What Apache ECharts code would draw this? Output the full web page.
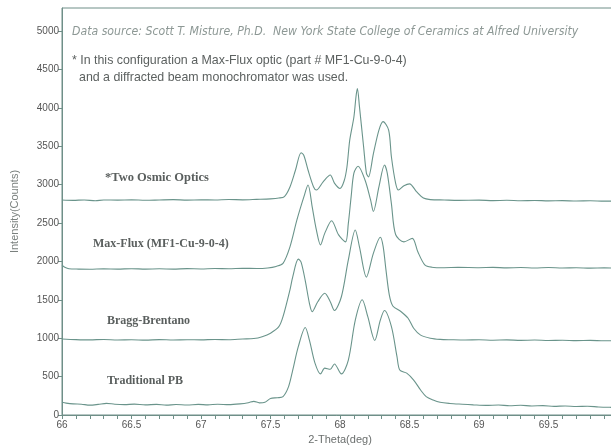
<!DOCTYPE html>
<html>
<head>
<meta charset="utf-8">
<script src="https://cdn.jsdelivr.net/npm/echarts@6/dist/echarts.min.js"></script>
<style>
html,body{margin:0;padding:0;background:#fff;}
#c{width:611px;height:447px;}
</style>
</head>
<body>
<div id="c"></div>
<script>
// ---- data (2-Theta in deg, Intensity in counts) ----
var seriesNames = ['*Two Osmic Optics', 'Max-Flux (MF1-Cu-9-0-4)', 'Bragg-Brentano', 'Traditional PB'];

var osmic = [
[66.00,2800],[66.08,2795],[66.16,2800],[66.24,2790],[66.30,2800],[66.40,2798],[66.50,2802],[66.60,2796],[66.70,2800],[66.80,2804],[66.90,2798],[67.00,2802],[67.10,2800],[67.20,2806],[67.30,2802],[67.40,2808],[67.50,2815],[67.56,2825],[67.60,2845],[67.64,2970],[67.68,3190],[67.72,3415],[67.74,3380],[67.77,3190],[67.81,2970],[67.83,2930],[67.88,3040],[67.93,3125],[67.96,3020],[68.00,2950],[68.03,3050],[68.05,3230],[68.07,3580],[68.10,3880],[68.115,4145],[68.125,4250],[68.14,4015],[68.17,3490],[68.19,3150],[68.205,3100],[68.24,3400],[68.28,3710],[68.31,3820],[68.35,3710],[68.37,3360],[68.40,3020],[68.42,2930],[68.46,2985],[68.50,3010],[68.55,2910],[68.60,2825],[68.65,2805],[68.75,2800],[68.85,2795],[69.00,2798],[69.10,2792],[69.20,2796],[69.30,2790],[69.40,2794],[69.50,2788],[69.60,2792],[69.70,2786],[69.80,2790],[69.90,2785],[70.00,2785]
];

var maxflux = [
[66.00,1950],[66.02,1925],[66.05,1905],[66.12,1900],[66.20,1898],[66.30,1903],[66.40,1900],[66.50,1905],[66.60,1900],[66.70,1904],[66.80,1900],[66.90,1906],[67.00,1902],[67.10,1908],[67.20,1904],[67.30,1910],[67.40,1908],[67.48,1915],[67.54,1935],[67.59,1975],[67.64,2190],[67.69,2540],[67.74,2840],[67.77,2995],[67.80,2710],[67.83,2410],[67.86,2215],[67.89,2365],[67.94,2530],[67.99,2345],[68.04,2255],[68.06,2495],[68.08,2840],[68.10,3150],[68.13,3240],[68.18,3060],[68.22,2800],[68.24,2650],[68.28,2970],[68.32,3255],[68.34,3150],[68.37,2750],[68.40,2350],[68.46,2255],[68.52,2300],[68.56,2125],[68.61,1955],[68.66,1925],[68.75,1918],[68.85,1922],[69.00,1918],[69.10,1922],[69.20,1916],[69.30,1920],[69.40,1915],[69.50,1920],[69.60,1914],[69.70,1918],[69.80,1912],[69.90,1916],[70.00,1912]
];

var bragg = [
[66.00,990],[66.10,982],[66.20,978],[66.30,984],[66.40,976],[66.50,980],[66.60,975],[66.70,982],[66.80,976],[66.90,980],[67.00,978],[67.10,984],[67.20,980],[67.30,990],[67.38,996],[67.44,1020],[67.50,1065],[67.56,1150],[67.59,1280],[67.64,1630],[67.66,1800],[67.70,2030],[67.72,1990],[67.75,1750],[67.78,1455],[67.80,1345],[67.84,1475],[67.89,1585],[67.93,1475],[67.96,1360],[68.01,1540],[68.06,2020],[68.11,2410],[68.14,2190],[68.19,1795],[68.24,2105],[68.29,2315],[68.31,2200],[68.33,1900],[68.355,1560],[68.38,1420],[68.44,1345],[68.49,1260],[68.53,1130],[68.58,1040],[68.65,1000],[68.72,985],[68.80,980],[68.90,976],[69.00,980],[69.10,974],[69.20,978],[69.30,972],[69.40,976],[69.50,970],[69.60,974],[69.70,968],[69.80,972],[69.90,966],[70.00,968]
];

var tradpb = [
[66.00,165],[66.03,155],[66.08,145],[66.14,140],[66.20,128],[66.26,138],[66.32,152],[66.38,140],[66.45,135],[66.52,142],[66.60,132],[66.68,138],[66.75,128],[66.82,136],[66.90,130],[66.98,138],[67.05,132],[67.12,140],[67.20,135],[67.28,145],[67.34,160],[67.38,178],[67.42,158],[67.46,165],[67.50,215],[67.55,225],[67.59,240],[67.63,370],[67.66,585],[67.70,890],[67.75,1140],[67.78,975],[67.82,675],[67.86,535],[67.89,610],[67.93,595],[67.96,665],[68.01,535],[68.06,715],[68.11,1235],[68.16,1500],[68.20,1280],[68.25,970],[68.29,1235],[68.32,1360],[68.37,1150],[68.41,760],[68.43,585],[68.48,545],[68.53,455],[68.58,325],[68.62,240],[68.67,195],[68.72,165],[68.79,150],[68.88,140],[68.96,132],[69.05,125],[69.14,130],[69.22,120],[69.30,126],[69.38,118],[69.46,122],[69.54,112],[69.62,118],[69.70,110],[69.78,114],[69.86,105],[69.94,100],[70.00,98]
];

var yTicks = [0,500,1000,1500,2000,2500,3000,3500,4000,4500,5000];
var sourceText = 'Data source: Scott T. Misture, Ph.D.  New York State College of Ceramics at Alfred University';
var noteLine1 = '* In this configuration a Max-Flux optic (part # MF1-Cu-9-0-4)';
var noteLine2 = 'and a diffracted beam monochromator was used.';

// ---- chart ----
var lineColor = '#6a948b';
var axisColor = '#6f8f88';
var chart = echarts.init(document.getElementById('c'), null, {renderer: 'canvas'});

function mkSeries(name, data) {
  return {
    name: name, type: 'line', data: data, showSymbol: false, symbol: 'none',
    smooth: 0.3, lineStyle: {color: lineColor, width: 1.1}, silent: true, clip: true
  };
}

var labelFont = 'bold 12px "Liberation Serif", "DejaVu Serif", serif';
var labelColor = '#5a5f5e';

chart.setOption({
  animation: false,
  backgroundColor: '#ffffff',
  grid: {left: 62, top: 8, width: 556, bottom: 32, outerBoundsMode: 'none', containLabel: false,
    show: true, borderColor: axisColor, borderWidth: 1, backgroundColor: 'transparent'},
  xAxis: {
    type: 'value', min: 66, max: 70, interval: 0.5,
    name: '2-Theta(deg)', nameLocation: 'middle', nameGap: 19,
    nameTextStyle: {fontFamily: 'Liberation Sans', fontSize: 11, color: '#6b6f6e'},
    axisLine: {show: true, onZero: false, lineStyle: {color: axisColor, width: 1}},
    axisTick: {show: true, inside: false, length: 4, lineStyle: {color: axisColor}},
    minorTick: {show: true, splitNumber: 5, length: 4, lineStyle: {color: axisColor}},
    axisLabel: {fontFamily: 'Liberation Sans', fontSize: 10, color: '#555', margin: 5},
    splitLine: {show: false}, minorSplitLine: {show: false}
  },
  yAxis: {
    type: 'value', min: 0, max: 5300, interval: 500,
    name: 'Intensity(Counts)', nameLocation: 'middle', nameGap: 42,
    nameTextStyle: {fontFamily: 'Liberation Sans', fontSize: 11, color: '#7a807e'},
    axisLine: {show: true, lineStyle: {color: axisColor, width: 1}},
    axisTick: {show: true, length: 4, lineStyle: {color: axisColor}, customValues: yTicks},
    axisLabel: {fontFamily: 'Liberation Sans', fontSize: 10, color: '#555', margin: 3, customValues: yTicks,
      formatter: function (v) { return String(v); }},
    splitLine: {show: false}
  },
  series: [
    mkSeries(seriesNames[0], osmic),
    mkSeries(seriesNames[1], maxflux),
    mkSeries(seriesNames[2], bragg),
    mkSeries(seriesNames[3], tradpb)
  ],
  graphic: [
    {type: 'text', x: 72, y: 32, style: {text: sourceText, font: 'italic 12.2px "Liberation Sans Narrow", "DejaVu Sans Condensed", sans-serif', fill: '#8d9895', verticalAlign: 'middle', align: 'left'}},
    {type: 'text', x: 72, y: 61, style: {text: noteLine1, font: '12.4px "Liberation Sans", Arial, sans-serif', fill: '#5c6160', verticalAlign: 'middle', align: 'left'}},
    {type: 'text', x: 79, y: 78, style: {text: noteLine2, font: '12.4px "Liberation Sans", Arial, sans-serif', fill: '#5c6160', verticalAlign: 'middle', align: 'left'}},
    {type: 'text', x: 105, y: 178, style: {text: seriesNames[0], font: 'bold 12.5px "Liberation Serif", "DejaVu Serif", serif', fill: labelColor, verticalAlign: 'middle', align: 'left'}},
    {type: 'text', x: 93, y: 244, style: {text: seriesNames[1], font: labelFont, fill: labelColor, verticalAlign: 'middle', align: 'left'}},
    {type: 'text', x: 107, y: 321, style: {text: seriesNames[2], font: labelFont, fill: labelColor, verticalAlign: 'middle', align: 'left'}},
    {type: 'text', x: 107, y: 381, style: {text: seriesNames[3], font: labelFont, fill: labelColor, verticalAlign: 'middle', align: 'left'}}
  ]
});
</script>
</body>
</html>
